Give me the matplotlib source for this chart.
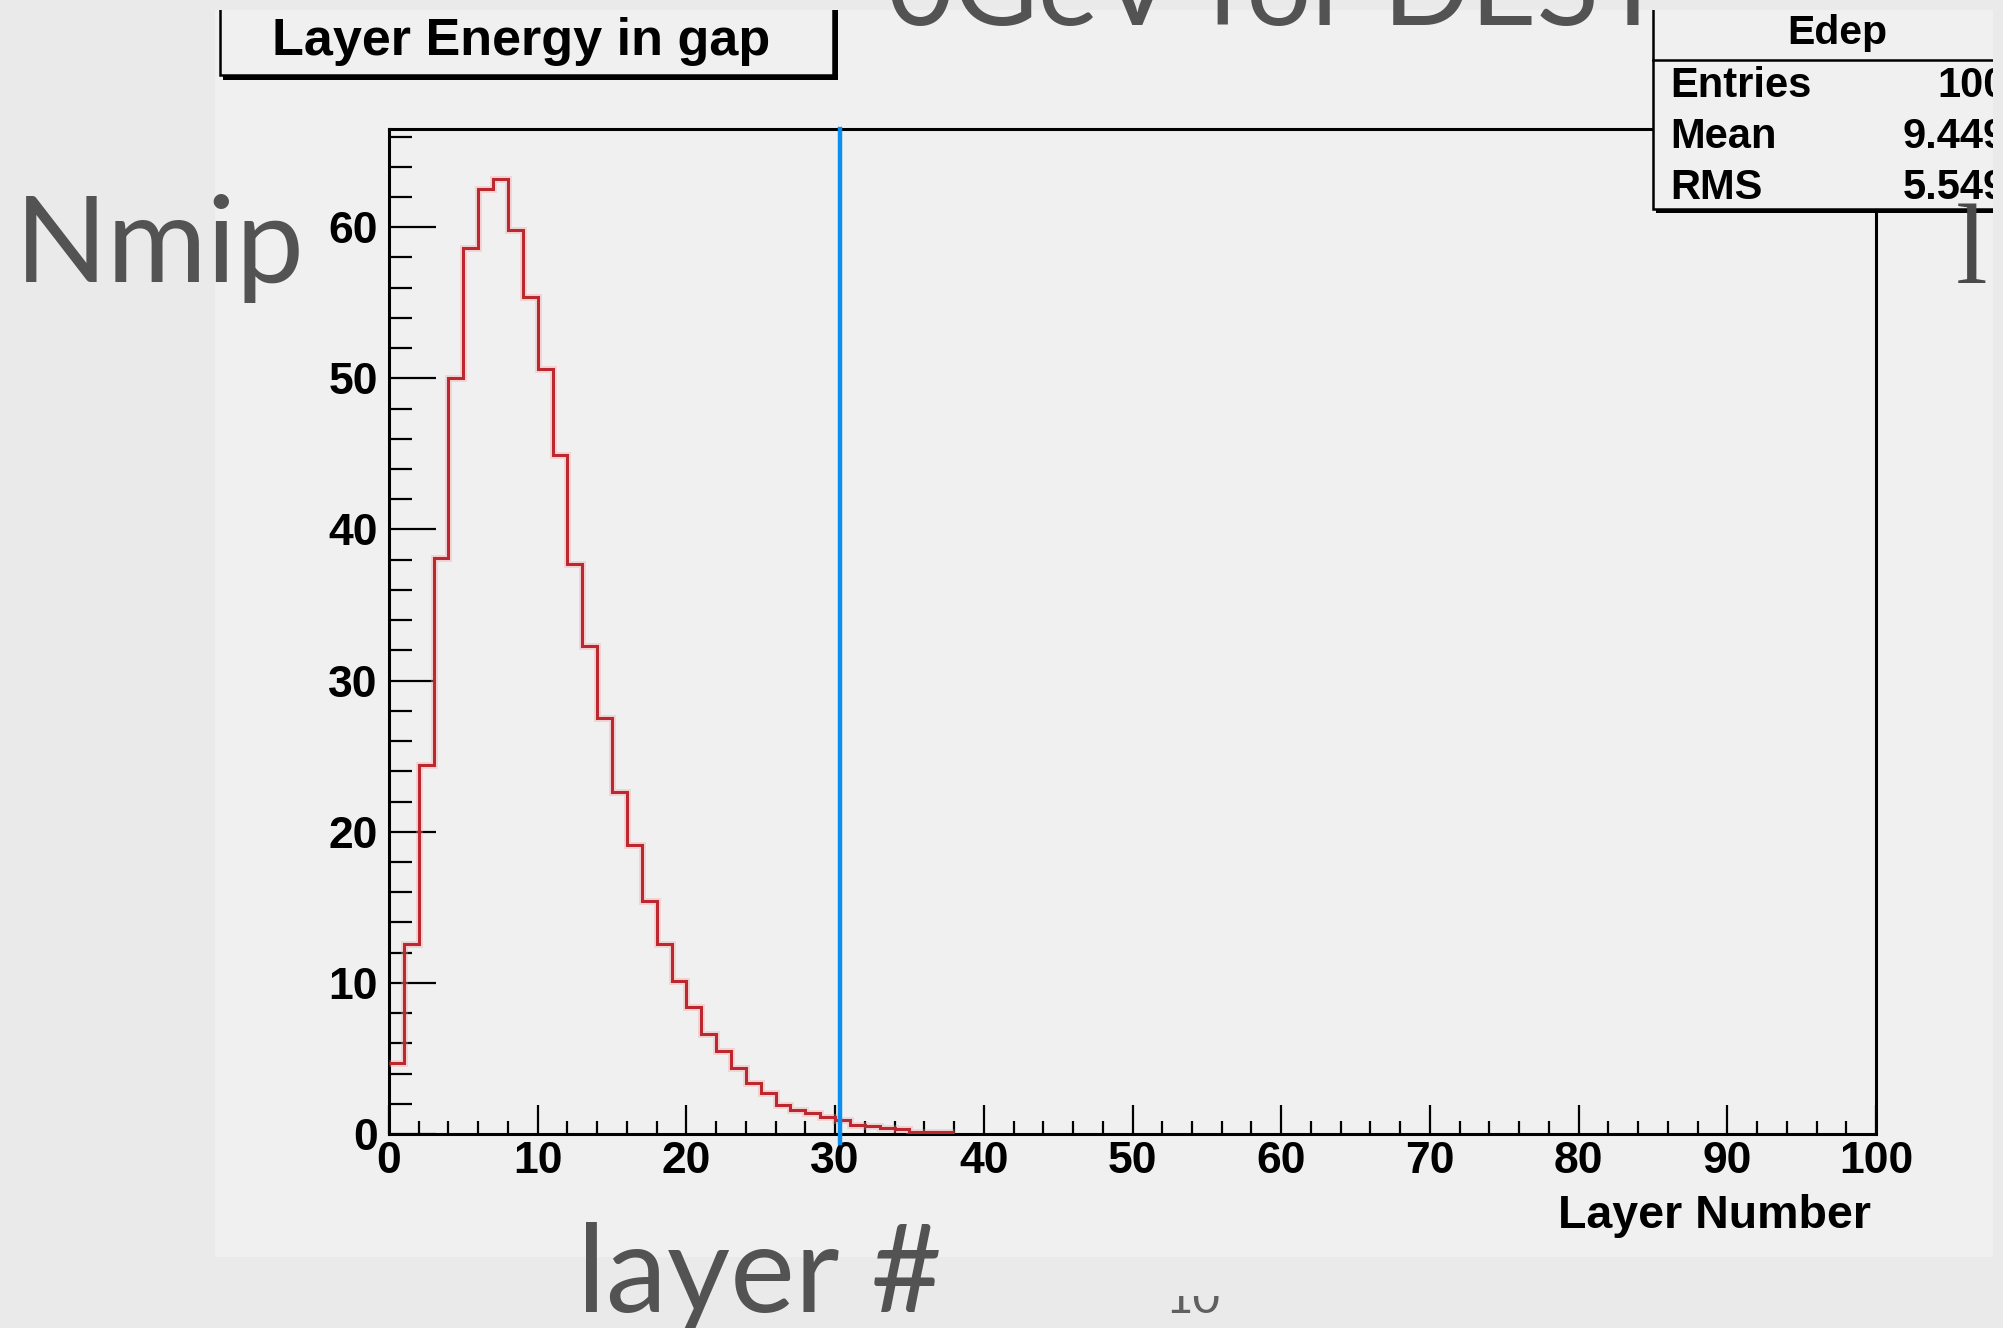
import matplotlib
matplotlib.use("Agg")
import matplotlib.pyplot as plt
from matplotlib.patches import Rectangle
import numpy as np

# ---------------- data ----------------
nmip_per_layer = [4.7, 12.6, 24.4, 38.1, 50.0, 58.6, 62.5, 63.2, 59.8, 55.4,
                  50.6, 44.9, 37.7, 32.3, 27.5, 22.6, 19.1, 15.4, 12.6, 10.1,
                  8.4, 6.6, 5.5, 4.4, 3.4, 2.7, 1.9, 1.6, 1.4, 1.1,
                  0.9, 0.6, 0.55, 0.4, 0.3, 0.15, 0.1, 0.1]
cut_layer = 30.3
x_ticks = [0, 10, 20, 30, 40, 50, 60, 70, 80, 90, 100]
y_ticks = [0, 10, 20, 30, 40, 50, 60]
hist_title = "Layer Energy in gap"
hist_name = "Edep"
stats_names = ["Entries", "Mean", "RMS"]
stats_values = ["100", "9.449", "5.549"]
x_title = "Layer Number"
slide_title = "0GeV for DEST"
slide_ylabel = "Nmip"
slide_xlabel = "layer #"
page_number = "10"

# ---------------- style ----------------
W, H, DPI = 2003, 1328, 100
SLIDE_BG = "#eaeaea"
CANVAS = "#f0f0f0"
HIST_RED = "#bb2830"
CUT_BLUE = "#0a8ff0"
SLIDE_TXT = "#535353"
ROOT_FONT = dict(family=["Liberation Sans", "DejaVu Sans"], weight="bold", color="black")
SLIDE_FONT = ["Lato", "DejaVu Sans"]

plt.rcParams["font.family"] = ["Liberation Sans", "DejaVu Sans"]
fig = plt.figure(figsize=(W / DPI, H / DPI), dpi=DPI)
renderer = fig.canvas.get_renderer()


def px_axes(z):
    a = fig.add_axes([0, 0, 1, 1], zorder=z)
    a.set_xlim(0, W)
    a.set_ylim(H, 0)
    a.axis("off")
    a.patch.set_alpha(0)
    return a


def fit_text(a, x, y, s, width, **kw):
    t = a.text(x, y, s, fontsize=50, **kw)
    bb = t.get_window_extent(renderer)
    t.set_fontsize(50 * width / bb.width)
    return t


# background: slide + ROOT canvas
bg = px_axes(0)
bg.add_patch(Rectangle((0, 0), W, H, color=SLIDE_BG, lw=0))
bg.add_patch(Rectangle((215, 10), 1993 - 215, 1257 - 10, color=CANVAS, lw=0))

# ---------------- ROOT frame / histogram ----------------
left, right, top, bottom = 389, 1876, 129, 1134
ax = fig.add_axes([left / W, 1 - bottom / H, (right - left) / W, (bottom - top) / H], zorder=1)
ax.set_facecolor(CANVAS)
edges = np.arange(len(nmip_per_layer) + 1)
ax.stairs(nmip_per_layer, edges, baseline=None, color="#f4a0a0", lw=5, alpha=0.35, zorder=3)
ax.stairs(nmip_per_layer, edges, baseline=None, color=HIST_RED, lw=2.2, zorder=3.1)
ax.axvline(cut_layer, ymin=-9 / (bottom - top), ymax=1, color=CUT_BLUE, lw=3.2,
           clip_on=False, zorder=4)

ax.set_xlim(0, 100)
ax.set_ylim(0, 66.5)
ax.set_xticks(x_ticks)
ax.set_xticks(np.arange(0, 101, 2), minor=True)
ax.set_yticks(y_ticks)
ax.set_yticks(np.arange(0, 67, 2), minor=True)
ax.tick_params(axis="x", which="major", direction="in", length=21, width=1.6, top=False, pad=5,
               labelsize=32)
ax.tick_params(axis="x", which="minor", direction="in", length=9.5, width=1.6, top=False)
ax.tick_params(axis="y", which="major", direction="in", length=34, width=1.6, right=False, pad=8,
               labelsize=32)
ax.tick_params(axis="y", which="minor", direction="in", length=16.5, width=1.6, right=False)
for lbl in ax.get_xticklabels() + ax.get_yticklabels():
    lbl.set_fontweight("bold")
for sp in ax.spines.values():
    sp.set_linewidth(2.2)

# ---------------- overlay: ROOT boxes and texts ----------------
ov = px_axes(3)
# title box with shadow
ov.add_patch(Rectangle((223, -20), 835 - 220, 80 + 20, facecolor="black", lw=0, zorder=1))
ov.add_patch(Rectangle((220, -20), 835 - 220 - 2, 77 + 20 - 2, facecolor=CANVAS,
                       edgecolor="black", lw=1.8, zorder=1.1))
ov.text(521, 55, hist_title, fontsize=37.5, ha="center", va="baseline", zorder=2, **ROOT_FONT)

# stats box with shadow
ov.add_patch(Rectangle((1656, -20), 400, 213 + 20, facecolor="black", lw=0, zorder=1))
ov.add_patch(Rectangle((1653, -20), 400, 209 + 20, facecolor=CANVAS, edgecolor="black",
                       lw=1.8, zorder=1.1))
ov.plot([1653, 2003], [60, 60], color="black", lw=1.8, zorder=1.2)
ov.text(1837, 44, hist_name, fontsize=29.5, ha="center", va="baseline", zorder=2, **ROOT_FONT)
for i, (nm, val) in enumerate(zip(stats_names, stats_values)):
    yb = 97 + 51 * i
    ov.text(1670, yb, nm, fontsize=30, ha="left", va="baseline", zorder=2, **ROOT_FONT)
    ov.text(2007, yb, val, fontsize=30, ha="right", va="baseline", zorder=2, **ROOT_FONT)

# x-axis title
ov.text(1871, 1228, x_title, fontsize=33.5, ha="right", va="baseline", zorder=2, **ROOT_FONT)

# slide strips covering the edges of the ROOT picture
ov.add_patch(Rectangle((0, 0), W, 10, color=SLIDE_BG, lw=0, zorder=5))
ov.add_patch(Rectangle((1993, 0), W - 1993, H, color=SLIDE_BG, lw=0, zorder=5))

# ---------------- slide texts on top ----------------
fit_text(ov, 887, 25, slide_title, 780, ha="left", va="baseline",
         family=SLIDE_FONT, color=SLIDE_TXT, zorder=6)
fit_text(ov, 15, 282, slide_ylabel, 290, ha="left", va="baseline",
         family=SLIDE_FONT, color=SLIDE_TXT, zorder=6)
fit_text(ov, 577, 1312, slide_xlabel, 365, ha="left", va="baseline",
         family=SLIDE_FONT, color=SLIDE_TXT, zorder=6)
ov.text(1956, 283, "l", fontsize=82, ha="left", va="baseline",
        family=["Liberation Serif", "DejaVu Serif"], color="#4a4a4a", zorder=6)
# page number, its upper half hidden behind a band of the slide
fit_text(ov, 1165, 1313, page_number, 55, ha="left", va="baseline",
         family=SLIDE_FONT, color="#606060", zorder=4)
ov.add_patch(Rectangle((1140, 1257), 120, 1296 - 1257, color=SLIDE_BG, lw=0, zorder=4.5))

fig.savefig("out.png", dpi=DPI, facecolor=SLIDE_BG)
